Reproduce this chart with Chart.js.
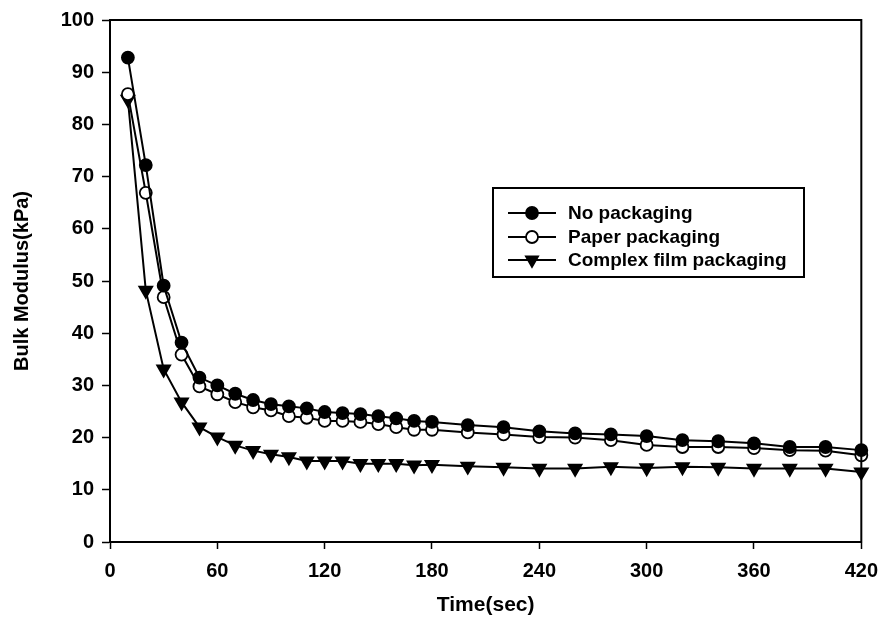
<!DOCTYPE html>
<html>
<head>
<meta charset="utf-8">
<script src="https://cdn.jsdelivr.net/npm/chart.js@4.4.0/dist/chart.umd.min.js"></script>
<style>
  body { margin: 0; background: #fff; }
  #wrap { width: 888px; height: 625px; }
</style>
</head>
<body>
<div id="wrap"><canvas id="chart" width="888" height="625"></canvas></div>
<script>
// time axis (sec)
const timeSec = [10, 20, 30, 40, 50, 60, 70, 80, 90, 100, 110, 120, 130, 140, 150, 160, 170, 180,
    200, 220, 240, 260, 280, 300, 320, 340, 360, 380, 400, 420];

// bulk modulus (kPa)
const noPackaging = [92.8, 72.2, 49.1, 38.2, 31.5, 30.0, 28.4, 27.2, 26.4, 26.0, 25.6, 24.9, 24.7, 24.5, 24.1, 23.7, 23.2, 23.0,
    22.4, 22.0, 21.2, 20.8, 20.6, 20.3, 19.5, 19.3, 18.9, 18.2, 18.2, 17.6];
const paperPackaging = [85.8, 66.9, 46.9, 35.9, 29.8, 28.3, 26.8, 25.8, 25.2, 24.1, 23.8, 23.2, 23.2, 23.0, 22.6, 22.0, 21.5, 21.5,
    21.0, 20.6, 20.1, 20.0, 19.5, 18.6, 18.2, 18.2, 18.0, 17.6, 17.5, 16.6];
const complexFilm = [84.8, 48.2, 33.1, 26.8, 22.0, 20.1, 18.5, 17.5, 16.8, 16.3, 15.5, 15.5, 15.5, 15.0, 15.0, 15.0, 14.7, 14.8,
    14.5, 14.3, 14.1, 14.1, 14.4, 14.2, 14.4, 14.3, 14.1, 14.1, 14.1, 13.4];

const seriesLabels = ['No packaging', 'Paper packaging', 'Complex film packaging'];
const xTicks = [0, 60, 120, 180, 240, 300, 360, 420];

const FONT = "'Liberation Sans', Arial, sans-serif";

function toPoints(values) {
    return values.map((v, i) => ({ x: timeSec[i], y: v }));
}

function drawMarker(ctx, kind, x, y) {
    ctx.save();
    ctx.lineWidth = 1.8;
    ctx.strokeStyle = '#000';
    ctx.beginPath();
    if (kind === 'tri') {
        const r = 7;
        ctx.moveTo(x - r * 0.866, y - r * 0.5);
        ctx.lineTo(x + r * 0.866, y - r * 0.5);
        ctx.lineTo(x, y + r);
        ctx.closePath();
        ctx.fillStyle = '#000';
    } else {
        ctx.arc(x, y, 6, 0, Math.PI * 2);
        ctx.fillStyle = kind === 'open' ? '#fff' : '#000';
    }
    ctx.fill();
    ctx.stroke();
    ctx.restore();
}

// frame around plot area + the boxed legend inside it
const framePlugin = {
    id: 'frame',
    afterDraw(chart) {
        const { ctx, chartArea: a } = chart;
        ctx.save();
        ctx.strokeStyle = '#000';
        ctx.lineWidth = 2;
        ctx.strokeRect(a.left, a.top, a.right - a.left, a.bottom - a.top);

        // legend
        const bx = 493, by = 188, bw = 311, bh = 89;
        ctx.lineWidth = 2;
        ctx.strokeRect(bx, by, bw, bh);
        const kinds = ['filled', 'open', 'tri'];
        const rows = [213, 237, 260];
        ctx.font = 'bold 19px ' + FONT;
        ctx.fillStyle = '#000';
        ctx.textBaseline = 'middle';
        rows.forEach((ry, i) => {
            ctx.beginPath();
            ctx.lineWidth = 2;
            ctx.moveTo(508, ry);
            ctx.lineTo(556, ry);
            ctx.stroke();
            drawMarker(ctx, kinds[i], 532, ry);
            ctx.fillStyle = '#000';
            ctx.fillText(seriesLabels[i], 568, ry + 1);
        });
        ctx.restore();
    }
};

const baseDs = {
    borderColor: '#000',
    borderWidth: 2,
    pointBorderColor: '#000',
    pointBorderWidth: 1.8,
    tension: 0,
    clip: false
};

new Chart(document.getElementById('chart').getContext('2d'), {
    type: 'line',
    data: {
        datasets: [
            Object.assign({}, baseDs, {
                label: seriesLabels[0],
                data: toPoints(noPackaging),
                pointStyle: 'circle',
                pointRadius: 6,
                pointBackgroundColor: '#000'
            }),
            Object.assign({}, baseDs, {
                label: seriesLabels[1],
                data: toPoints(paperPackaging),
                pointStyle: 'circle',
                pointRadius: 6,
                pointBackgroundColor: '#fff'
            }),
            Object.assign({}, baseDs, {
                label: seriesLabels[2],
                data: toPoints(complexFilm),
                pointStyle: 'triangle',
                pointRotation: 180,
                pointRadius: 7.5,
                pointBackgroundColor: '#000'
            })
        ]
    },
    options: {
        responsive: false,
        animation: false,
        layout: { padding: { top: 18, right: 21, bottom: 0, left: 0 } },
        plugins: {
            legend: { display: false },
            tooltip: { enabled: false }
        },
        scales: {
            x: {
                type: 'linear',
                min: 0,
                max: 420,
                afterFit: s => { s.height = 83; },
                afterBuildTicks: s => { s.ticks = xTicks.map(v => ({ value: v })); },
                border: { color: '#000', width: 2 },
                grid: { drawOnChartArea: false, drawTicks: true, tickLength: 7, tickColor: '#000', tickWidth: 1.5 },
                ticks: { color: '#000', padding: 10, font: { family: FONT, size: 20, weight: 'bold' }, maxRotation: 0 },
                title: {
                    display: true,
                    text: 'Time(sec)',
                    color: '#000',
                    font: { family: FONT, size: 21, weight: 'bold' },
                    padding: { top: 0, bottom: 7 }
                }
            },
            y: {
                min: 0,
                max: 100,
                afterFit: s => { s.width = 110; },
                border: { color: '#000', width: 2 },
                grid: { drawOnChartArea: false, drawTicks: true, tickLength: 8, tickColor: '#000', tickWidth: 1.5 },
                ticks: { stepSize: 10, color: '#000', padding: 8, font: { family: FONT, size: 20, weight: 'bold' } },
                title: {
                    display: true,
                    text: 'Bulk Modulus(kPa)',
                    color: '#000',
                    font: { family: FONT, size: 20, weight: 'bold' },
                    padding: { top: 10, bottom: 0 }
                }
            }
        }
    },
    plugins: [framePlugin]
});
</script>
</body>
</html>
